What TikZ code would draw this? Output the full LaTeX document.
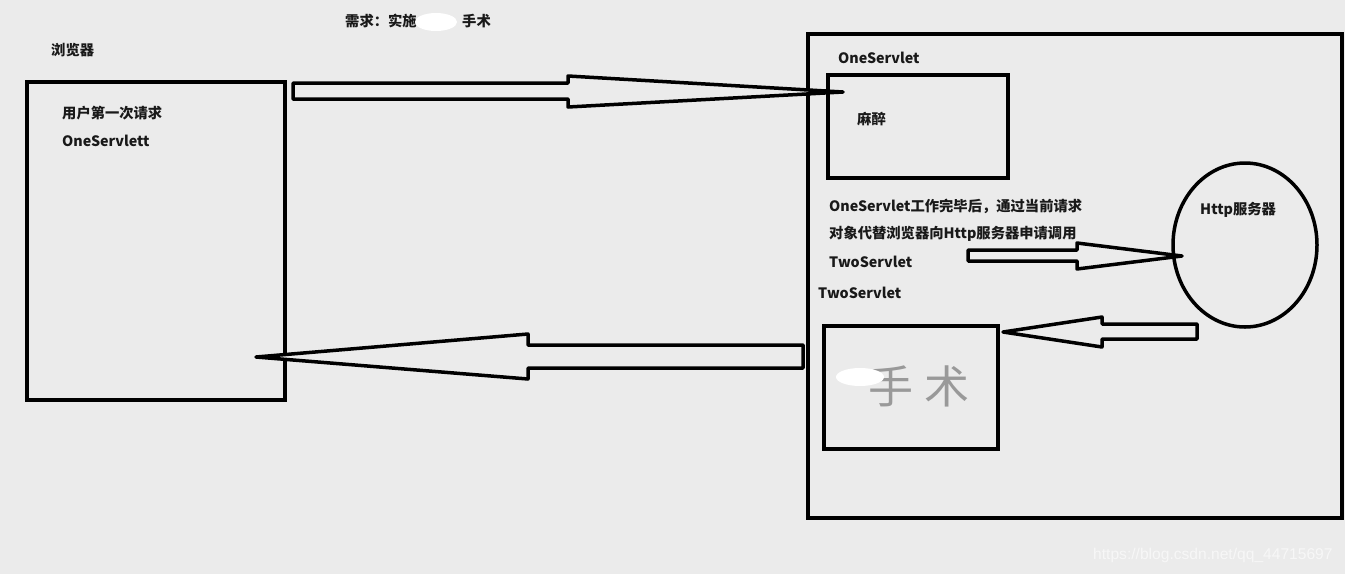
\documentclass[tikz,border=0pt]{standalone}
\usepackage{fontspec}
\usetikzlibrary{shapes.geometric}
\newfontfamily\cjk{Noto Sans CJK SC}
\newfontfamily\wmfont{Liberation Sans}
\definecolor{bg}{RGB}{235,235,235}
\definecolor{txt}{RGB}{25,25,25}
\begin{document}
\begin{tikzpicture}[x=1pt,y=-1pt,
  lbl/.style={font=\cjk\bfseries\fontsize{14.3}{16}\selectfont, text=txt, inner sep=0pt, anchor=west},
  boxl/.style={draw=black, line width=3.5pt, rectangle, inner sep=0pt},
  arr/.style={draw=black, line width=3.5pt, fill=bg, line join=round}]
\fill[bg] (0,0) rectangle (1345,574);
\useasboundingbox (0,0) rectangle (1345,574);

% boxes
\node[boxl, minimum width=258pt, minimum height=318pt] (browser) at (156,241) {};
\node[boxl, minimum width=534pt, minimum height=484pt] (server) at (1075,276) {};
\node[boxl, minimum width=180pt, minimum height=103pt] (one) at (918,126.5) {};
\node[boxl, minimum width=174pt, minimum height=123pt] (two) at (911,387.5) {};
\node[draw=black, line width=3.5pt, ellipse, minimum width=144pt, minimum height=164pt, inner sep=0pt] (http) at (1245,245) {};

% labels
\node[lbl] (tbrowser) at (51,50) {浏览器};
\node[lbl] (req) at (62,113) {用户第一次请求};
\node[lbl] (reqs) at (62,141) {OneServlett};
\node[lbl] (tone) at (838,58) {OneServlet};
\node[lbl] (mazui) at (857,119) {麻醉};
\node[lbl] (l1) at (829,206) {OneServlet工作完毕后，通过当前请求};
\node[lbl] (l2) at (829,234) {对象代替浏览器向Http服务器申请调用};
\node[lbl] (l3) at (829,262) {TwoServlet};
\node[lbl] (ttwo) at (818,293) {TwoServlet};
\node[lbl] (thttp) at (1200,210) {Http服务器};

% title with blot
\node[lbl] (title1) at (345,21) {需求：实施};
\node[lbl, anchor=east] (title2) at (491,21) {手术};
\fill[white] (436,22) ellipse [x radius=21, y radius=9];

% surgery text in box
\node[font=\cjk\fontsize{45}{48}\selectfont, text=black!40, inner sep=0pt] (shoushu) at (919,386) {手\hspace{12pt}术};
\fill[white] (860,377) ellipse [x radius=24, y radius=9];

% arrows
\coordinate (t1) at (843,92);
\coordinate (t2) at (1182,256);
\coordinate (t3) at (1003,332);
\coordinate (t4) at (256,357);
\draw[arr] (293,83) -- (568,83) -- (568,76) -- (t1) -- (568,107) -- (568,99) -- (293,99) -- cycle;
\draw[arr] (968,250) -- (1077,250) -- (1077,243) -- (t2) -- (1077,269) -- (1077,261) -- (968,261) -- cycle;
\draw[arr] (1197,324) -- (1102,324) -- (1102,317) -- (t3) -- (1102,347) -- (1102,339) -- (1197,339) -- cycle;
\draw[arr] (803,345) -- (528,345) -- (528,334) -- (t4) -- (528,379) -- (528,368) -- (803,368) -- cycle;

% watermark
\node[font=\wmfont\fontsize{15.6}{18}\selectfont, text=white!97!black, inner sep=0pt, anchor=west] (wm) at (1093,555) {https://blog.csdn.net/qq\_44715697};
\end{tikzpicture}
\end{document}
